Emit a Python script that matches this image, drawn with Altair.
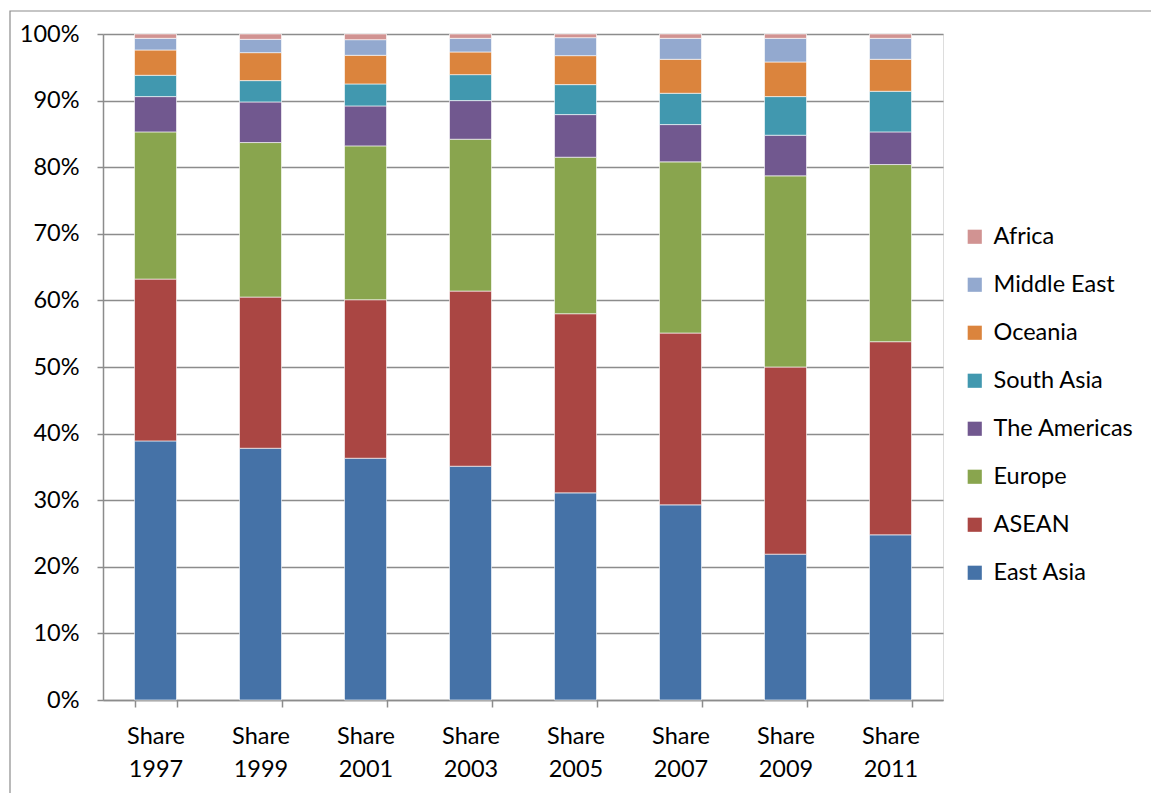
import altair as alt
import pandas as pd

years = ["Share 1997", "Share 1999", "Share 2001", "Share 2003",
         "Share 2005", "Share 2007", "Share 2009", "Share 2011"]

# bottom -> top stacking order
regions = ["East Asia", "ASEAN", "Europe", "The Americas",
           "South Asia", "Oceania", "Middle East", "Africa"]

east_asia    = [38.9, 37.8, 36.3, 35.1, 31.1, 29.3, 21.9, 24.8]
asean        = [24.3, 22.7, 23.8, 26.3, 26.9, 25.8, 28.1, 29.0]
europe       = [22.1, 23.2, 23.1, 22.8, 23.5, 25.7, 28.7, 26.6]
americas     = [5.3, 6.1, 6.0, 5.8, 6.4, 5.6, 6.1, 4.9]
south_asia   = [3.2, 3.2, 3.3, 3.9, 4.5, 4.7, 5.8, 6.1]
oceania      = [3.8, 4.2, 4.3, 3.4, 4.35, 5.1, 5.2, 4.8]
middle_east  = [1.75, 2.0, 2.35, 2.05, 2.7, 3.15, 3.55, 3.15]
africa       = [0.65, 0.8, 0.85, 0.65, 0.55, 0.65, 0.65, 0.65]

colors = ["#4572A7", "#AA4643", "#89A54E", "#71588F",
          "#4198AF", "#DB843D", "#93A9CF", "#D19392"]

series = [east_asia, asean, europe, americas, south_asia, oceania, middle_east, africa]
rows = []
for i, (name, vals) in enumerate(zip(regions, series)):
    for y, v in zip(years, vals):
        rows.append({"year": y, "region": name, "value": v, "idx": i})
df = pd.DataFrame(rows)

FONT = "Lato"
FS = 23.5
GRID = "#8c8c8c"

bars = alt.Chart(df).mark_bar(stroke="white", strokeWidth=0.6).encode(
    x=alt.X("year:N", sort=years, title=None,
            scale=alt.Scale(paddingInner=0.6, paddingOuter=0.3),
            axis=alt.Axis(labelExpr="split(datum.label, ' ')", labelAngle=0,
                          labelFontSize=FS, labelColor="black", labelFont=FONT,
                          labelLineHeight=33, labelPadding=17, labelBaseline="top",
                          tickBand="extent", tickSize=7, tickColor=GRID, tickWidth=1.5,
                          domainColor=GRID, domainWidth=1.5, grid=False)),
    y=alt.Y("value:Q", stack="normalize", title=None,
            scale=alt.Scale(domain=[0, 1]),
            axis=alt.Axis(format=".0%", values=[i / 10 for i in range(11)],
                          labelFontSize=FS, labelColor="black", labelFont=FONT,
                          labelPadding=18, tickSize=6, tickColor=GRID, tickWidth=1.5,
                          domainColor=GRID, domainWidth=1.5,
                          grid=True, gridColor=GRID, gridWidth=1.5)),
    color=alt.Color("region:N",
                    scale=alt.Scale(domain=regions[::-1], range=colors[::-1]),
                    legend=alt.Legend(title=None, orient="none", legendX=860, legendY=191,
                                      symbolType="square", symbolSize=200,
                                      symbolStrokeWidth=0, labelFontSize=FS,
                                      labelFont=FONT, labelColor="black",
                                      rowPadding=23, labelOffset=7)),
    order=alt.Order("idx:Q", sort="ascending"),
)

border = alt.Chart(pd.DataFrame({"a": [0]})).mark_rect(
    fill=None, stroke="#8c8c8c", strokeWidth=1.2, clip=False
).encode(x=alt.value(-93), x2=alt.value(1100), y=alt.value(-23), y2=alt.value(800))

chart = alt.layer(border, bars).properties(
    width=840, height=666,
    autosize=alt.AutoSizeParams(type="none"),
    padding={"left": 103, "top": 34, "right": 208, "bottom": 93},
).configure_view(stroke=None).configure(background="white")

chart.save("out.html", embed_options={"renderer": "svg", "actions": False})
